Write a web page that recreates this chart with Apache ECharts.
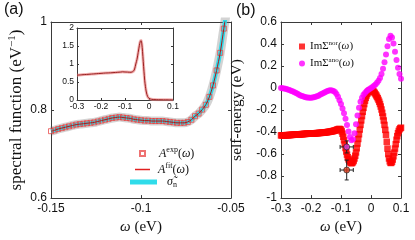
<!DOCTYPE html>
<html><head><meta charset="utf-8">
<script src="https://cdn.jsdelivr.net/npm/echarts@6/dist/echarts.min.js"></script>
<style>html,body{margin:0;padding:0;background:#fff}#c{width:415px;height:240px}</style>
</head><body><div id="c"></div>
<script>
// ---------- data ----------
// panel (a): spectral function, omega grid -0.150 .. -0.050 step 0.002
const aOmegaStart = -0.150, aOmegaStep = 0.002;
const aExp = [0.752,0.754,0.757,0.759,0.761,0.763,0.765,0.767,0.768,0.769,
              0.770,0.771,0.772,0.774,0.776,0.778,0.780,0.782,0.783,0.784,
              0.783,0.782,0.781,0.779,0.778,0.777,0.776,0.776,0.775,0.775,
              0.775,0.775,0.774,0.773,0.772,0.771,0.771,0.771,0.773,0.778,
              0.786,0.792,0.801,0.812,0.830,0.856,0.890,0.930,0.985,1.040,1.100];
const aXTicks = [-0.15, -0.1, -0.05];
const aYTicks = [0.6, 0.8, 1.0];
// inset: full spectral function
const insetOmega = [-0.30,-0.28,-0.26,-0.24,-0.22,-0.20,-0.18,-0.16,-0.14,-0.12,-0.11,-0.10,-0.09,-0.08,-0.075,-0.07,-0.065,-0.06,-0.055,-0.05,-0.045,-0.04,-0.036,-0.033,-0.030,-0.027,-0.024,-0.021,-0.018,-0.015,-0.012,-0.009,-0.006,-0.003,0.000,0.005,0.01,0.02,0.04,0.06,0.08,0.10];
const insetA     = [0.69,0.70,0.71,0.72,0.73,0.74,0.75,0.755,0.765,0.775,0.783,0.778,0.775,0.771,0.770,0.780,0.80,0.86,1.00,1.13,1.32,1.52,1.63,1.65,1.56,1.35,1.07,0.80,0.55,0.38,0.25,0.16,0.10,0.065,0.045,0.03,0.02,0.012,0.008,0.005,0.004,0.003];
const insetXTicks = [-0.3,-0.2,-0.1,0,0.1];
const insetYTicks = [0,0.5,1,1.5,2];
// panel (b): Im Sigma^nor, omega grid -0.300 .. 0.100 step 0.0025
const norOmegaStart = -0.300, norOmegaStep = 0.0025;
const imSigmaNor = [
  -0.430,-0.430,-0.430,-0.430,-0.430,-0.429,-0.429,-0.428,-0.428,-0.428,
  -0.428,-0.427,-0.427,-0.426,-0.426,-0.425,-0.425,-0.424,-0.424,-0.423,
  -0.423,-0.422,-0.422,-0.421,-0.421,-0.420,-0.420,-0.419,-0.419,-0.418,
  -0.418,-0.417,-0.417,-0.416,-0.416,-0.415,-0.415,-0.414,-0.414,-0.413,
  -0.413,-0.412,-0.412,-0.412,-0.412,-0.411,-0.411,-0.410,-0.410,-0.409,
  -0.409,-0.408,-0.408,-0.407,-0.407,-0.406,-0.405,-0.404,-0.404,-0.403,
  -0.402,-0.401,-0.400,-0.399,-0.398,-0.397,-0.396,-0.394,-0.393,-0.391,
  -0.390,-0.388,-0.386,-0.384,-0.381,-0.378,-0.376,-0.373,-0.372,-0.374,
  -0.380,-0.394,-0.415,-0.443,-0.475,-0.510,-0.545,-0.577,-0.605,-0.629,
  -0.648,-0.663,-0.673,-0.680,-0.683,-0.680,-0.672,-0.659,-0.640,-0.615,
  -0.585,-0.547,-0.505,-0.463,-0.420,-0.377,-0.335,-0.294,-0.255,-0.216,
  -0.180,-0.146,-0.115,-0.089,-0.068,-0.052,-0.040,-0.032,-0.026,-0.022,
  -0.020,-0.021,-0.024,-0.029,-0.036,-0.045,-0.056,-0.067,-0.080,-0.093,
  -0.108,-0.125,-0.145,-0.168,-0.195,-0.225,-0.258,-0.295,-0.335,-0.380,
  -0.425,-0.488,-0.550,-0.600,-0.640,-0.666,-0.680,-0.680,-0.670,-0.650,
  -0.620,-0.587,-0.550,-0.510,-0.470,-0.437,-0.410,-0.390,-0.375,-0.366,
  -0.360];
// panel (b): Im Sigma^ano, omega grid -0.300 .. 0.100 step 0.005
const anoOmegaStart = -0.300, anoOmegaStep = 0.005;
const imSigmaAno = [0.000,-0.002,-0.004,-0.007,-0.011,-0.015,-0.020,-0.026,-0.032,-0.039,
                    -0.046,-0.053,-0.060,-0.067,-0.073,-0.078,-0.082,-0.085,-0.087,-0.088,
                    -0.088,-0.087,-0.084,-0.080,-0.075,-0.069,-0.062,-0.055,-0.047,-0.040,
                    -0.033,-0.027,-0.023,-0.021,-0.022,-0.027,-0.037,-0.055,-0.080,-0.110,
                    -0.145,-0.185,-0.230,-0.280,-0.335,-0.395,-0.445,-0.475,-0.465,-0.410,
                    -0.330,-0.250,-0.180,-0.125,-0.088,-0.062,-0.044,-0.030,-0.018,-0.008,
                    0.000,0.010,0.020,0.032,0.047,0.066,0.092,0.127,0.175,0.235,
                    0.305,0.380,0.445,0.475,0.460,0.405,0.330,0.255,0.185,0.128,0.085];
const bXTicks = [-0.3,-0.2,-0.1,0,0.1];
const bYTicks = [-1,-0.8,-0.6,-0.4,-0.2,0,0.2,0.4,0.6];
// points with error bars
const errOmega = [-0.081, -0.081];
const errValue = [-0.535, -0.745];
const errXHalf = [0.022, 0.022];
const errYHalf = [0.055, 0.090];
const errColor = ['#e040e0', '#d83a1a'];

// ---------- build ----------
const grid = (start, step, n) => Array.from({length: n}, (_, i) => +(start + i * step).toFixed(5));
const aOmega = grid(aOmegaStart, aOmegaStep, aExp.length);
const norOmega = grid(norOmegaStart, norOmegaStep, imSigmaNor.length);
const anoOmega = grid(anoOmegaStart, anoOmegaStep, imSigmaAno.length);
const pair = (xs, ys) => ys.map((y, i) => [xs[i], y]);

const SANS = 'Liberation Sans, Arial, sans-serif';
const SERIF = 'Liberation Serif, Times New Roman, serif';
const AX = '#3a3a3a';
const fmt = v => String(+(+v).toFixed(4));

function axis(kind, gi, pos, ticks, opts) {
  opts = opts || {};
  const showLabel = !!opts.label;
  const o = {
    type: 'value', gridIndex: gi, position: pos,
    min: ticks[0], max: ticks[ticks.length - 1], interval: +(ticks[1] - ticks[0]).toFixed(6),
    splitLine: {show: false},
    axisLine: {show: true, onZero: false, lineStyle: {color: AX, width: 1}},
    axisTick: {show: true, inside: true, length: opts.tickLen || 3, lineStyle: {color: AX}},
    axisLabel: {show: showLabel, fontSize: opts.fs || 12, color: '#111', fontFamily: SANS,
                margin: opts.margin || 5, showMinLabel: true, showMaxLabel: true, formatter: fmt},
  };
  if (opts.name) {
    o.name = opts.name; o.nameLocation = 'middle'; o.nameGap = opts.nameGap;
    o.nameTextStyle = opts.nameStyle;
  }
  return o;
}

const supStyle = (fs, up) => ({fontSize: fs, fontFamily: SERIF, color: '#111', padding: [0, 0, up, 0]});
const subStyle = (fs, dn) => ({fontSize: fs, fontFamily: SERIF, color: '#111', padding: [dn, 0, 0, 0]});

const xNameStyle = {fontSize: 15, fontFamily: SERIF, color: '#111',
  rich: {i: {fontSize: 15, fontFamily: SERIF, fontStyle: 'italic', color: '#111'}}};

const legendRich = {
  sp3: {width: 3}, sp5: {width: 5}, sp9: {width: 9},
  t: {fontSize: 12, fontFamily: SERIF, color: '#111'},
  i: {fontSize: 12, fontFamily: SERIF, fontStyle: 'italic', color: '#111'},
  sup: supStyle(8, 7),
  sub: subStyle(8, 6),
  ts: {fontSize: 11, fontFamily: SERIF, color: '#111'},
  is: {fontSize: 11, fontFamily: SERIF, fontStyle: 'italic', color: '#111'},
  sups: supStyle(7, 6),
};
const legendLabels = {
  Aexp: '{sp9|}{i|A}{sup|exp}{t|(}{i|ω}{t|)}',
  Afit: '{sp3|}{i|A}{sup|fit}{t|(}{i|ω}{t|)}',
  sigma: '{sp5|}{i|σ̃}{sub|n}',
  nor: '{ts|ImΣ}{sups|nor}{ts|(}{is|ω}{ts|)}',
  ano: '{ts|ImΣ}{sups|ano}{ts|(}{is|ω}{ts|)}',
};
function legend(names, left, top, w, h, icon, extra) {
  return Object.assign({
    data: names.map(n => icon ? {name: n, icon: icon} : n),
    left: left, top: top, itemWidth: w, itemHeight: h, padding: 0,
    orient: 'vertical', selectedMode: false,
    formatter: n => legendLabels[n],
    textStyle: {rich: legendRich, color: '#111'},
  }, extra || {});
}

const option = {
  animation: false,
  backgroundColor: '#fff',
  grid: [
    {left: 51, top: 22, width: 180, height: 180},
    {left: 77, top: 28, width: 96, height: 72, show: true, backgroundColor: '#fff', borderWidth: 0, z: 5},
    {left: 281, top: 22, width: 120, height: 180},
  ],
  xAxis: [
    axis('x', 0, 'bottom', aXTicks, {label: true, name: '{i|ω} (eV)', nameGap: 19, nameStyle: xNameStyle}),
    axis('x', 0, 'top', aXTicks),
    Object.assign(axis('x', 1, 'bottom', insetXTicks, {label: true, fs: 8.5, margin: 2, tickLen: 2}), {z: 6}),
    Object.assign(axis('x', 1, 'top', insetXTicks, {tickLen: 2}), {z: 6}),
    axis('x', 2, 'bottom', bXTicks, {label: true, name: '{i|ω} (eV)', nameGap: 19, nameStyle: xNameStyle}),
    axis('x', 2, 'top', bXTicks),
  ],
  yAxis: [
    axis('y', 0, 'left', aYTicks, {label: true, margin: 4, name: '{t|spectral function (eV}{sup|−1}{t|)}', nameGap: 25,
      nameStyle: {rich: {t: {fontSize: 17, fontFamily: SERIF, color: '#111'}, sup: supStyle(11, 8)}}}),
    axis('y', 0, 'right', aYTicks),
    Object.assign(axis('y', 1, 'left', insetYTicks, {label: true, fs: 8.5, margin: 3, tickLen: 2}), {z: 6}),
    Object.assign(axis('y', 1, 'right', insetYTicks, {tickLen: 2}), {z: 6}),
    axis('y', 2, 'left', bYTicks, {label: true, margin: 4, name: 'self-energy (eV)', nameGap: 36,
      nameStyle: {fontSize: 15.5, fontFamily: SERIF, color: '#111'}}),
    axis('y', 2, 'right', bYTicks),
  ],
  legend: [
    legend(['Aexp'], 139, 146, 5, 5, 'rect'),
    legend(['Afit'], 135, 162, 15, 1.5, 'rect'),
    legend(['sigma'], 130, 176, 27, 5, 'rect'),
    legend(['nor', 'ano'], 299, 40, 6, 6, null, {itemGap: 5}),
  ],
  series: [
    // (a) main
    {type: 'line', xAxisIndex: 0, yAxisIndex: 0, data: pair(aOmega, aExp), showSymbol: false, smooth: 0.3,
     lineStyle: {color: 'rgba(110,110,110,0.3)', width: 9}, silent: true, z: 1},
    {name: 'sigma', type: 'line', xAxisIndex: 0, yAxisIndex: 0, data: pair(aOmega, aExp), showSymbol: false, smooth: 0.3,
     color: '#30dcea', lineStyle: {color: '#30dcea', width: 4}, itemStyle: {color: '#30dcea'}, z: 2},
    {name: 'Aexp', type: 'scatter', xAxisIndex: 0, yAxisIndex: 0, data: pair(aOmega, aExp), symbol: 'rect', symbolSize: 5,
     itemStyle: {color: 'rgba(0,0,0,0)', borderColor: 'rgba(232,60,60,0.9)', borderWidth: 1}, z: 3},
    {name: 'Afit', type: 'line', xAxisIndex: 0, yAxisIndex: 0, data: pair(aOmega, aExp), showSymbol: false, smooth: 0.3,
     color: '#e02020', lineStyle: {color: '#b01818', width: 1}, itemStyle: {color: '#e02020'}, z: 4},
    // inset
    {type: 'line', xAxisIndex: 2, yAxisIndex: 2, data: pair(insetOmega, insetA), showSymbol: false, smooth: 0.3,
     lineStyle: {color: 'rgba(235,130,130,0.6)', width: 3}, z: 7},
    {type: 'line', xAxisIndex: 2, yAxisIndex: 2, data: pair(insetOmega, insetA), showSymbol: false, smooth: 0.3,
     lineStyle: {color: '#9a1f1f', width: 1}, z: 8},
    // (b)
    {name: 'nor', type: 'scatter', xAxisIndex: 4, yAxisIndex: 4, data: pair(norOmega, imSigmaNor), symbol: 'rect', symbolSize: 6.5,
     itemStyle: {color: '#ff0000'}, z: 3},
    {name: 'ano', type: 'scatter', xAxisIndex: 4, yAxisIndex: 4, data: pair(anoOmega, imSigmaAno), symbol: 'circle', symbolSize: 6,
     itemStyle: {color: '#ff00ff'}, z: 4},
    {type: 'custom', xAxisIndex: 4, yAxisIndex: 4, z: 5,
     data: errOmega.map((x, i) => [x, errValue[i], errXHalf[i], errYHalf[i]]),
     renderItem: function (params, api) {
       const x = api.value(0), y = api.value(1), ex = api.value(2), ey = api.value(3);
       const l = api.coord([x - ex, y]), r = api.coord([x + ex, y]);
       const t = api.coord([x, y + ey]), b = api.coord([x, y - ey]);
       const st = {stroke: '#222', lineWidth: 1};
       const c = 2;
       return {type: 'group', children: [
         {type: 'line', shape: {x1: l[0], y1: l[1], x2: r[0], y2: r[1]}, style: st},
         {type: 'line', shape: {x1: t[0], y1: t[1], x2: b[0], y2: b[1]}, style: st},
         {type: 'line', shape: {x1: l[0], y1: l[1] - c, x2: l[0], y2: l[1] + c}, style: st},
         {type: 'line', shape: {x1: r[0], y1: r[1] - c, x2: r[0], y2: r[1] + c}, style: st},
         {type: 'line', shape: {x1: t[0] - c, y1: t[1], x2: t[0] + c, y2: t[1]}, style: st},
         {type: 'line', shape: {x1: b[0] - c, y1: b[1], x2: b[0] + c, y2: b[1]}, style: st},
       ]};
     }},
    {type: 'scatter', xAxisIndex: 4, yAxisIndex: 4, z: 6, symbol: 'circle', symbolSize: 6,
     data: errOmega.map((x, i) => ({value: [x, errValue[i]], itemStyle: {color: errColor[i], borderColor: '#222', borderWidth: 0.8}}))},
  ],
  graphic: [
    {type: 'text', left: 4, top: 2, style: {text: '(a)', font: '16px ' + SANS, fill: '#111'}},
    {type: 'text', left: 236, top: 3, style: {text: '(b)', font: '16px ' + SANS, fill: '#111'}},
  ],
};
const chart = echarts.init(document.getElementById('c'), null, {renderer: 'canvas'});
chart.setOption(option);
</script>
</body></html>
